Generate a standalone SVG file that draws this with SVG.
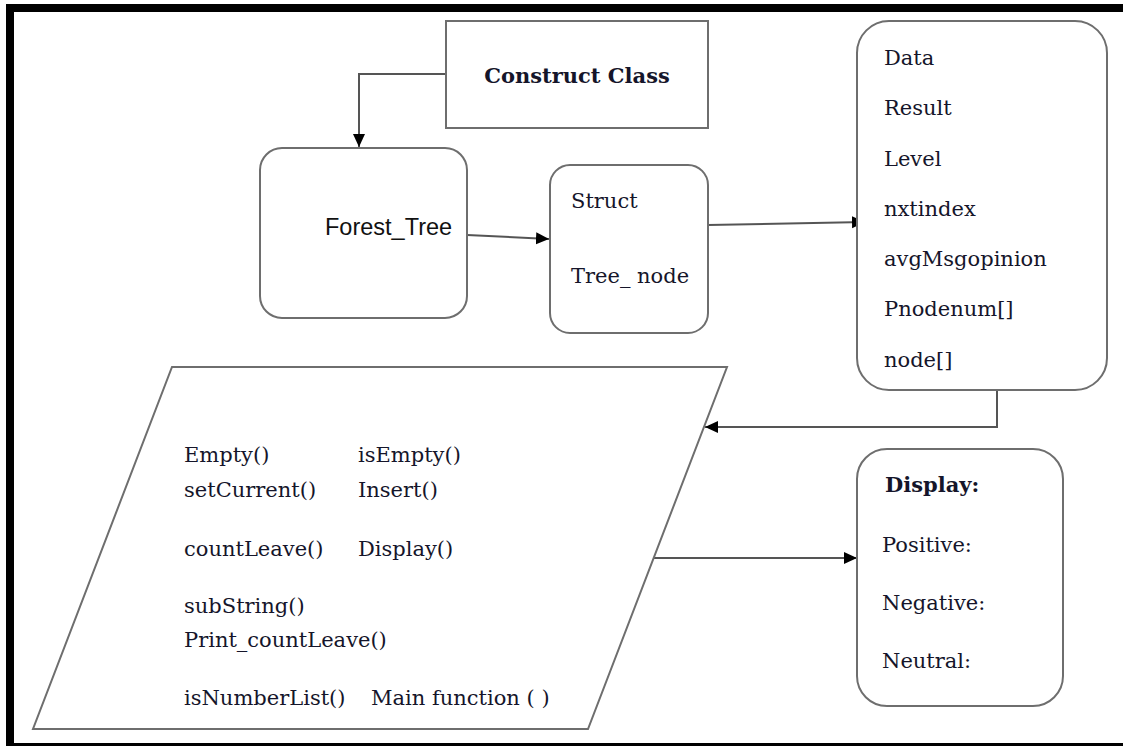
<svg xmlns="http://www.w3.org/2000/svg" width="1123" height="746" viewBox="0 0 1123 746">
  <style>
    .box { fill: #ffffff; stroke: #6e6e6e; stroke-width: 2; }
    .edge { fill: none; stroke: #555555; stroke-width: 2; }
    .frame { fill: #000000; }
    .txt { font-family: "DejaVu Serif", "Liberation Serif", serif; font-size: 21px; fill: #15152a; }
    .bold { font-weight: bold; }
    .sans { font-family: "Liberation Sans", "Open Sans", sans-serif; font-size: 23.5px; fill: #111111; }
  </style>
  <defs>
    <marker id="arrow" markerUnits="userSpaceOnUse" markerWidth="14" markerHeight="14" viewBox="0 0 14 14" refX="13" refY="7" orient="auto">
      <path d="M0,1 L13,7 L0,13 Z" fill="#000000"/>
    </marker>
  </defs>

  <rect width="1123" height="746" fill="#ffffff"/>

  <!-- page frame -->
  <g id="frame">
    <rect class="frame" x="6" y="4" width="1117" height="8"/>
    <rect class="frame" x="6" y="4" width="8" height="742"/>
    <rect class="frame" x="6" y="743" width="1117" height="3"/>
  </g>

  <!-- connectors -->
  <g id="connectors">
    <path class="edge" d="M446,74 H359 V147" marker-end="url(#arrow)"/>
    <path class="edge" d="M467,235 L549,239" marker-end="url(#arrow)"/>
    <path class="edge" d="M708,225 L865,222" marker-end="url(#arrow)"/>
    <path class="edge" d="M997,390 V427 H705" marker-end="url(#arrow)"/>
    <path class="edge" d="M654,558 H857" marker-end="url(#arrow)"/>
  </g>

  <g id="construct-class">
    <rect class="box" x="446" y="21" width="262" height="107"/>
    <text class="txt bold" x="577" y="83" text-anchor="middle">Construct Class</text>
  </g>

  <g id="forest-tree">
    <rect class="box" x="260" y="148" width="207" height="170" rx="22"/>
    <text class="sans" x="325" y="235">Forest_Tree</text>
  </g>

  <g id="tree-node">
    <rect class="box" x="550" y="165" width="158" height="168" rx="20"/>
    <text class="txt" x="571" y="208">Struct</text>
    <text class="txt" x="571" y="283">Tree_ node</text>
  </g>

  <g id="node-fields">
    <rect class="box" x="857" y="21" width="250" height="369" rx="32"/>
    <text class="txt" x="884" y="65">Data</text>
    <text class="txt" x="884" y="115">Result</text>
    <text class="txt" x="884" y="166">Level</text>
    <text class="txt" x="884" y="216">nxtindex</text>
    <text class="txt" x="884" y="266">avgMsgopinion</text>
    <text class="txt" x="884" y="316">Pnodenum[]</text>
    <text class="txt" x="884" y="367">node[]</text>
  </g>

  <g id="functions">
    <polygon class="box" points="172,367 727,367 588,729 33,729"/>
    <text class="txt" x="184" y="462">Empty()</text>
    <text class="txt" x="358" y="462">isEmpty()</text>
    <text class="txt" x="184" y="497">setCurrent()</text>
    <text class="txt" x="358" y="497">Insert()</text>
    <text class="txt" x="184" y="556">countLeave()</text>
    <text class="txt" x="358" y="556">Display()</text>
    <text class="txt" x="184" y="613">subString()</text>
    <text class="txt" x="184" y="647">Print_countLeave()</text>
    <text class="txt" x="184" y="705">isNumberList()</text>
    <text class="txt" x="371" y="705">Main function ( )</text>
  </g>

  <g id="display">
    <rect class="box" x="857" y="449" width="206" height="257" rx="30"/>
    <text class="txt bold" x="885" y="492">Display:</text>
    <text class="txt" x="882" y="552">Positive:</text>
    <text class="txt" x="882" y="610">Negative:</text>
    <text class="txt" x="882" y="668">Neutral:</text>
  </g>
</svg>
